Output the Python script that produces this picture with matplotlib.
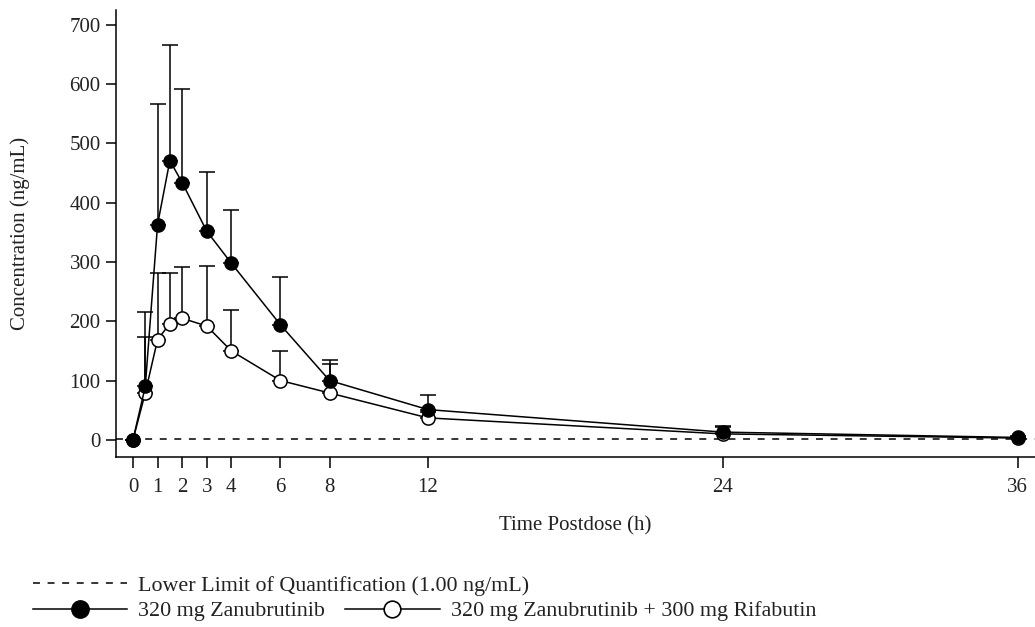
import matplotlib
matplotlib.use("Agg")
import matplotlib.pyplot as plt
from matplotlib.lines import Line2D

plt.rcParams["font.family"] = ["Liberation Serif", "DejaVu Serif"]
plt.rcParams["font.size"] = 15
plt.rcParams["lines.scale_dashes"] = False

# Mean concentration (ng/mL) and SD at each sampling time
hours = [0, 0.5, 1, 1.5, 2, 3, 4, 6, 8, 12, 24, 36]
zanu_mean = [0, 90, 363, 471, 434, 352, 298, 194, 100, 51, 13, 4]
zanu_sd = [0, 125, 203, 195, 157, 99, 89, 81, 34, 25, 11, 3]
rifa_mean = [0, 79, 169, 196, 205, 192, 150, 100, 79, 37, 10, 3]
rifa_sd = [0, 94, 112, 86, 86, 101, 69, 50, 49, 10, 12, 2]
lloq = 1.00

xticks = [0, 1, 2, 3, 4, 6, 8, 12, 24, 36]
yticks = [0, 100, 200, 300, 400, 500, 600, 700]

fig = plt.figure(figsize=(10.35, 6.27), dpi=100)
ax = fig.add_axes([0.1121, 0.2711, 0.8879, 0.7129])

lw = 1.1
dash = (0, (5, 5.5))
ax.axhline(lloq, color="black", lw=lw, ls=dash, zorder=1)

zero = [0] * len(hours)
ax.errorbar(hours, rifa_mean, yerr=[zero, rifa_sd], color="black", lw=lw,
            elinewidth=lw, capsize=6, capthick=lw, marker="o", ms=9.5,
            mfc="white", mec="black", mew=1.1, zorder=2)
ax.errorbar(hours, zanu_mean, yerr=[zero, zanu_sd], color="black", lw=lw,
            elinewidth=lw, capsize=6, capthick=lw, marker="o", ms=9.5,
            mfc="black", mec="black", zorder=3)

ax.set_xlim(-0.69, 36.7)
ax.set_ylim(-29, 725)
ax.set_xticks(xticks)
ax.set_yticks(yticks)
ax.spines["top"].set_visible(False)
ax.spines["right"].set_visible(False)
for s in ("left", "bottom"):
    ax.spines[s].set_linewidth(lw)
ax.tick_params(axis="both", direction="out", width=lw, colors="black",
               labelcolor="#222222")
ax.tick_params(axis="x", length=8, pad=7)
ax.tick_params(axis="y", length=7, pad=4)

ax.set_ylabel("Concentration (ng/mL)", color="#222222")
ax.yaxis.label.set_va("center")
ax.yaxis.set_label_coords(-0.1045, 0.5)
ax.set_xlabel("Time Postdose (h)", color="#222222")
ax.xaxis.label.set_va("center")
ax.xaxis.set_label_coords(0.5, -0.154)

# Legend below the plot
h_lloq = Line2D([], [], color="black", lw=lw, ls=dash)
h_zanu = Line2D([], [], color="black", lw=lw, marker="o", ms=12.5, mfc="black")
h_rifa = Line2D([], [], color="black", lw=lw, marker="o", ms=12,
                mfc="white", mew=1.2)
leg_kw = dict(frameon=False, loc="center left", borderpad=0,
              borderaxespad=0, handlelength=4.3, handletextpad=0.5,
              columnspacing=0.91, labelcolor="#222222", fontsize=15.8)
fig.legend([h_lloq], ["Lower Limit of Quantification (1.00 ng/mL)"],
           bbox_to_anchor=(0.032, 0.0659), **leg_kw)
fig.legend([h_zanu, h_rifa],
           ["320 mg Zanubrutinib", "320 mg Zanubrutinib + 300 mg Rifabutin"],
           ncol=2, bbox_to_anchor=(0.032, 0.0255), **leg_kw)

fig.savefig("out.png", dpi=100)
